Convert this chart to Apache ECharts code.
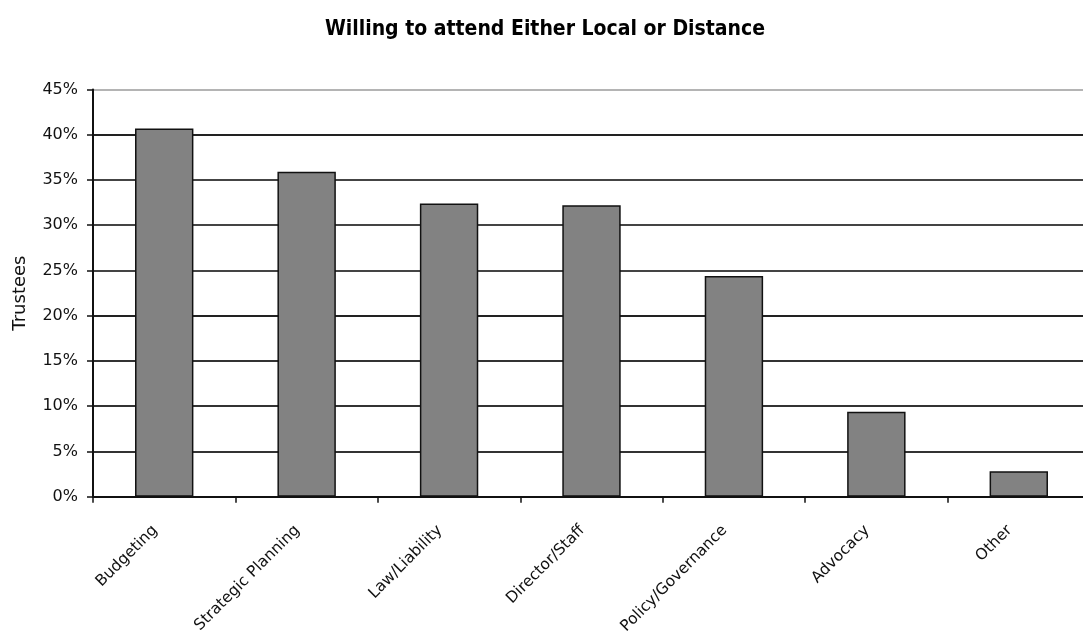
<!DOCTYPE html>
<html>
<head>
<meta charset="utf-8">
<script src="https://cdn.jsdelivr.net/npm/echarts@6/dist/echarts.min.js"></script>
<style>
  html, body { margin: 0; padding: 0; background: #fff; overflow: hidden; }
  body { width: 1083px; height: 637px; }
  /* canvas is a little wider than the page so the plot runs off the right edge */
  #chart { width: 1090px; height: 637px; }
</style>
</head>
<body>
<div id="chart"></div>
<script>
// Topics trustees would attend, locally or by distance learning
const categories = ['Budgeting', 'Strategic Planning', 'Law/Liability', 'Director/Staff', 'Policy/Governance', 'Advocacy', 'Other'];
const trusteePct = [40.7, 35.9, 32.4, 32.2, 24.4, 9.4, 2.8];
const yTicks = [0, 5, 10, 15, 20, 25, 30, 35, 40, 45];

const chart = echarts.init(document.getElementById('chart'), null, { renderer: 'canvas' });

const labelFont = '"DejaVu Sans", "Liberation Sans", Arial, sans-serif';

chart.setOption({
  animation: false,
  backgroundColor: '#ffffff',
  title: {
    text: 'Willing to attend Either Local or Distance',
    left: 'center',
    top: 14,
    textStyle: {
      fontFamily: '"Liberation Sans Narrow", "DejaVu Sans Condensed", "Liberation Sans", Arial, sans-serif',
      fontWeight: 'bold',
      fontSize: 21,
      color: '#000'
    }
  },
  grid: { left: 93, right: 0, top: 89.5, bottom: 140, containLabel: false },
  xAxis: {
    type: 'category',
    data: categories,
    boundaryGap: true,
    axisLine: { show: true, lineStyle: { color: '#111', width: 2 } },
    axisTick: { show: true, length: 6, lineStyle: { color: '#111', width: 1.5 } },
    axisLabel: {
      rotate: 45,
      margin: 22,
      interval: 0,
      padding: [0, 13, 0, 0],
      fontFamily: labelFont,
      fontSize: 15.5,
      color: '#111'
    },
    splitLine: { show: false }
  },
  yAxis: {
    type: 'value',
    min: yTicks[0],
    max: yTicks[yTicks.length - 1],
    interval: 5,
    name: 'Trustees',
    nameLocation: 'middle',
    nameGap: 64,
    nameRotate: 90,
    nameTextStyle: { fontFamily: labelFont, fontSize: 18, color: '#111' },
    axisLine: { show: true, lineStyle: { color: '#111', width: 2 } },
    axisTick: { show: true, inside: false, length: 6, lineStyle: { color: '#111', width: 1.5 } },
    axisLabel: {
      formatter: v => v + '%',
      margin: 15,
      fontFamily: labelFont,
      fontSize: 16,
      color: '#111'
    },
    splitLine: {
      show: true,
      lineStyle: {
        width: 2,
        color: ['#222', '#333', '#333', '#333', '#222', '#444', '#444', '#444', '#222', '#b4b4b4']
      }
    }
  },
  series: [{
    type: 'bar',
    data: trusteePct,
    barCategoryGap: '59%',
    itemStyle: { color: '#828282', borderColor: '#111', borderWidth: 1.5 },
    emphasis: { disabled: true }
  }]
});
</script>
</body>
</html>
